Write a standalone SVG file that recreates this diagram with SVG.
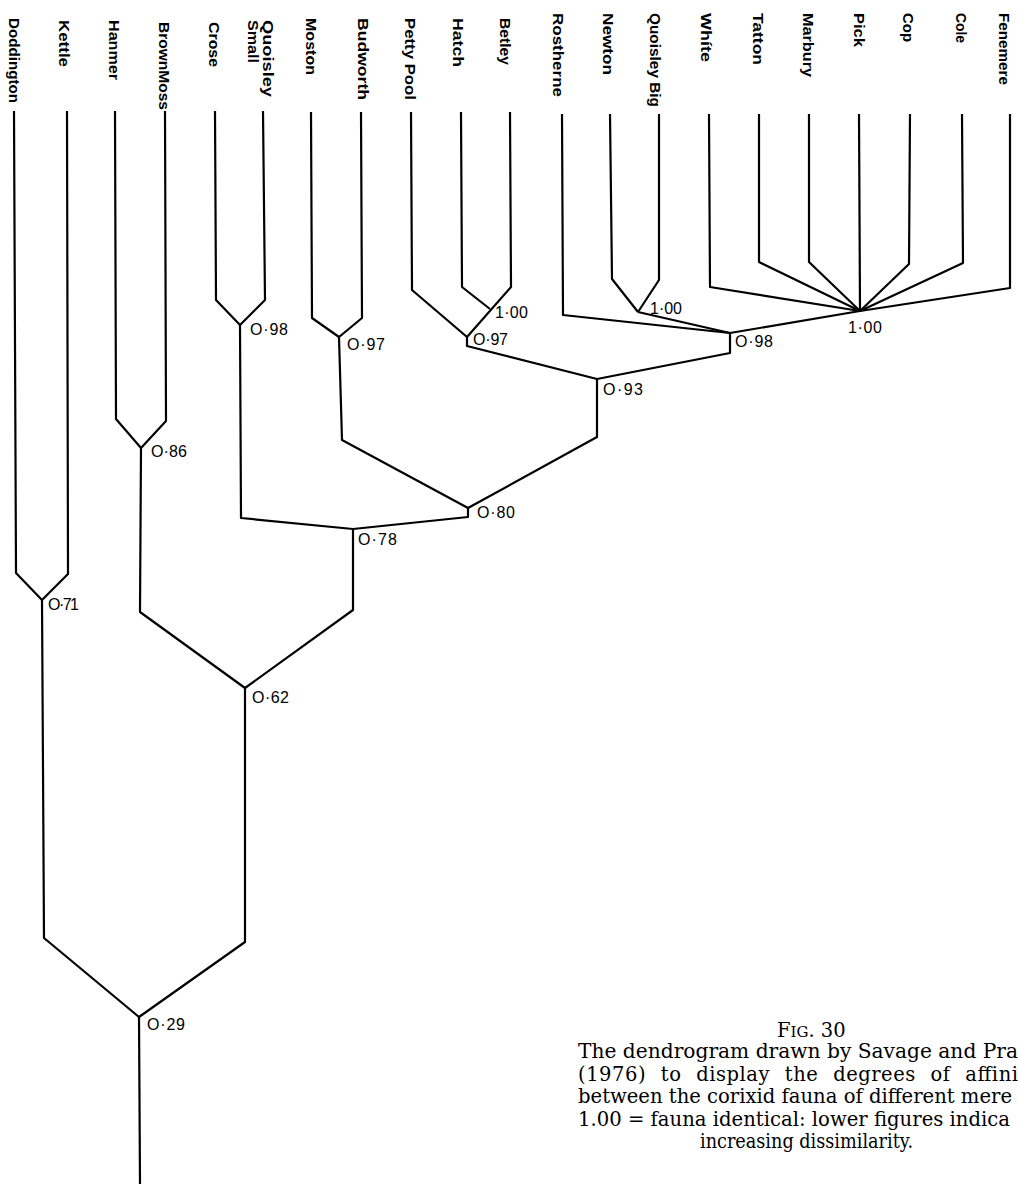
<svg xmlns="http://www.w3.org/2000/svg" width="1019" height="1186" viewBox="0 0 1019 1186">
<style>
.ln{fill:none;stroke:#000;stroke-width:2.2;stroke-linejoin:round;stroke-linecap:butt}
.leaf{font-family:"Liberation Sans",Arial,sans-serif;font-weight:bold;font-size:14.5px;fill:#000}
.val{font-family:"Liberation Sans",Arial,sans-serif;font-size:16px;fill:#000}
.cap{font-family:"DejaVu Serif","Liberation Serif",serif;font-size:19.5px;fill:#000}
</style>
<rect width="1019" height="1186" fill="#fff"/>
<g id="connectors">
<polyline class="ln" points="14,111 16,573 42,600"/>
<polyline class="ln" points="67,111 68,574 42,600"/>
<polyline class="ln" points="42,600 44,938 139,1017"/>
<polyline class="ln" points="115,111 116,419 141,448"/>
<polyline class="ln" points="165,111 166,421 141,448"/>
<polyline class="ln" points="141,448 140,612 245,688"/>
<polyline class="ln" points="215,111 216,300 240,325"/>
<polyline class="ln" points="263,111 265,300 240,325"/>
<polyline class="ln" points="240,325 241,518 353,529"/>
<polyline class="ln" points="311,112 312,318 339,337"/>
<polyline class="ln" points="361,112 362,318 339,337"/>
<polyline class="ln" points="339,337 342,440 468,508"/>
<polyline class="ln" points="411,112 412,290 467,337"/>
<polyline class="ln" points="461,112 462,287 490,309"/>
<polyline class="ln" points="510,112 511,287 467,337"/>
<polyline class="ln" points="467,337 467,346 597,379"/>
<polyline class="ln" points="562,114 563,315 730,333"/>
<polyline class="ln" points="610,114 612,279 638,312"/>
<polyline class="ln" points="659,114 659,280 638,312"/>
<polyline class="ln" points="638,312 730,333"/>
<polyline class="ln" points="709,114 710,287 860,311"/>
<polyline class="ln" points="759,114 759,262 860,311"/>
<polyline class="ln" points="809,114 809,262 860,311"/>
<polyline class="ln" points="859,114 860,311"/>
<polyline class="ln" points="910,114 909,264 860,311"/>
<polyline class="ln" points="962,114 963,263 860,311"/>
<polyline class="ln" points="1010,114 1010,288 860,311"/>
<polyline class="ln" points="860,311 730,333"/>
<polyline class="ln" points="730,333 730,353 597,379"/>
<polyline class="ln" points="597,379 597,437 468,508"/>
<polyline class="ln" points="468,508 468,517 353,529"/>
<polyline class="ln" points="353,529 353,610 245,688"/>
<polyline class="ln" points="245,688 245,942 139,1017"/>
<polyline class="ln" points="139,1017 140,1184"/>
</g>
<g id="leaf-doddington"><text class="leaf" transform="translate(9,18) rotate(90)" textLength="85" lengthAdjust="spacingAndGlyphs">Doddington</text></g>
<g id="leaf-kettle"><text class="leaf" transform="translate(59,20) rotate(90)" textLength="47" lengthAdjust="spacingAndGlyphs">Kettle</text></g>
<g id="leaf-hanmer"><text class="leaf" transform="translate(109,20) rotate(90)" textLength="60" lengthAdjust="spacingAndGlyphs">Hanmer</text></g>
<g id="leaf-brownmoss"><text class="leaf" transform="translate(159,22) rotate(90)" textLength="88" lengthAdjust="spacingAndGlyphs">BrownMoss</text></g>
<g id="leaf-crose"><text class="leaf" transform="translate(209,22) rotate(90)" textLength="45" lengthAdjust="spacingAndGlyphs">Crose</text></g>
<g id="leaf-quoisley-small"><text class="leaf" transform="translate(263,20) rotate(90)" textLength="77" lengthAdjust="spacingAndGlyphs">Quoisley</text><text class="leaf" transform="translate(248,20) rotate(90)" textLength="43" lengthAdjust="spacingAndGlyphs">Small</text></g>
<g id="leaf-moston"><text class="leaf" transform="translate(306,18) rotate(90)" textLength="57" lengthAdjust="spacingAndGlyphs">Moston</text></g>
<g id="leaf-budworth"><text class="leaf" transform="translate(358,18) rotate(90)" textLength="82" lengthAdjust="spacingAndGlyphs">Budworth</text></g>
<g id="leaf-pettypool"><text class="leaf" transform="translate(405,18) rotate(90)" textLength="82" lengthAdjust="spacingAndGlyphs">Petty Pool</text></g>
<g id="leaf-hatch"><text class="leaf" transform="translate(453,18) rotate(90)" textLength="49" lengthAdjust="spacingAndGlyphs">Hatch</text></g>
<g id="leaf-betley"><text class="leaf" transform="translate(500,18) rotate(90)" textLength="47" lengthAdjust="spacingAndGlyphs">Betley</text></g>
<g id="leaf-rostherne"><text class="leaf" transform="translate(553,13) rotate(90)" textLength="84" lengthAdjust="spacingAndGlyphs">Rostherne</text></g>
<g id="leaf-newton"><text class="leaf" transform="translate(603,13) rotate(90)" textLength="62" lengthAdjust="spacingAndGlyphs">Newton</text></g>
<g id="leaf-quoisley-big"><text class="leaf" transform="translate(650,13) rotate(90)" textLength="94" lengthAdjust="spacingAndGlyphs">Quoisley Big</text></g>
<g id="leaf-white"><text class="leaf" transform="translate(701,13) rotate(90)" textLength="49" lengthAdjust="spacingAndGlyphs">Whíte</text></g>
<g id="leaf-tatton"><text class="leaf" transform="translate(753,13) rotate(90)" textLength="52" lengthAdjust="spacingAndGlyphs">Tatton</text></g>
<g id="leaf-marbury"><text class="leaf" transform="translate(803,13) rotate(90)" textLength="64" lengthAdjust="spacingAndGlyphs">Marbury</text></g>
<g id="leaf-pick"><text class="leaf" transform="translate(854,13) rotate(90)" textLength="34" lengthAdjust="spacingAndGlyphs">Pick</text></g>
<g id="leaf-cop"><text class="leaf" transform="translate(903,13) rotate(90)" textLength="29" lengthAdjust="spacingAndGlyphs">Cop</text></g>
<g id="leaf-cole"><text class="leaf" transform="translate(956,13) rotate(90)" textLength="30" lengthAdjust="spacingAndGlyphs">Cole</text></g>
<g id="leaf-fenemere"><text class="leaf" transform="translate(999,13) rotate(90)" textLength="72" lengthAdjust="spacingAndGlyphs">Fenemere</text></g>
<g id="node-098a"><text class="val" x="250" y="335" textLength="38" lengthAdjust="spacing">O·98</text></g>
<g id="node-097a"><text class="val" x="347" y="350" textLength="38" lengthAdjust="spacing">O·97</text></g>
<g id="node-100a"><text class="val" x="495" y="318" textLength="33" lengthAdjust="spacing">1·00</text></g>
<g id="node-097b"><text class="val" x="473" y="345" textLength="35" lengthAdjust="spacing">O·97</text></g>
<g id="node-100b"><text class="val" x="650" y="314" textLength="32" lengthAdjust="spacing">1·00</text></g>
<g id="node-100c"><text class="val" x="848" y="333" textLength="34" lengthAdjust="spacing">1·00</text></g>
<g id="node-098b"><text class="val" x="735" y="347" textLength="38" lengthAdjust="spacing">O·98</text></g>
<g id="node-093"><text class="val" x="603" y="395" textLength="40" lengthAdjust="spacing">O·93</text></g>
<g id="node-080"><text class="val" x="477" y="518" textLength="38" lengthAdjust="spacing">O·80</text></g>
<g id="node-078"><text class="val" x="358" y="545" textLength="39" lengthAdjust="spacing">O·78</text></g>
<g id="node-086"><text class="val" x="151" y="457" textLength="36" lengthAdjust="spacing">O·86</text></g>
<g id="node-071"><text class="val" x="48" y="610" textLength="31" lengthAdjust="spacing">O·71</text></g>
<g id="node-062"><text class="val" x="252" y="703" textLength="37" lengthAdjust="spacing">O·62</text></g>
<g id="node-029"><text class="val" x="147" y="1030" textLength="38" lengthAdjust="spacing">O·29</text></g>
<g id="caption">
<text class="cap" x="777" y="1037" font-size="20"><tspan>F</tspan><tspan font-size="15">IG</tspan>. 30</text>
<text class="cap" x="578" y="1058" textLength="440" lengthAdjust="spacingAndGlyphs">The dendrogram drawn by Savage and Pra</text>
<text class="cap" x="578" y="1080.5" textLength="440" lengthAdjust="spacing" word-spacing="8">(1976) to display the degrees of affini</text>
<text class="cap" x="578" y="1103" textLength="434" lengthAdjust="spacingAndGlyphs">between the corixid fauna of different mere</text>
<text class="cap" x="578" y="1125.5" textLength="432" lengthAdjust="spacingAndGlyphs">1.00 = fauna identical: lower figures indica</text>
<text class="cap" x="700" y="1148" textLength="213" lengthAdjust="spacingAndGlyphs">increasing dissimilarity.</text>
</g>
</svg>
